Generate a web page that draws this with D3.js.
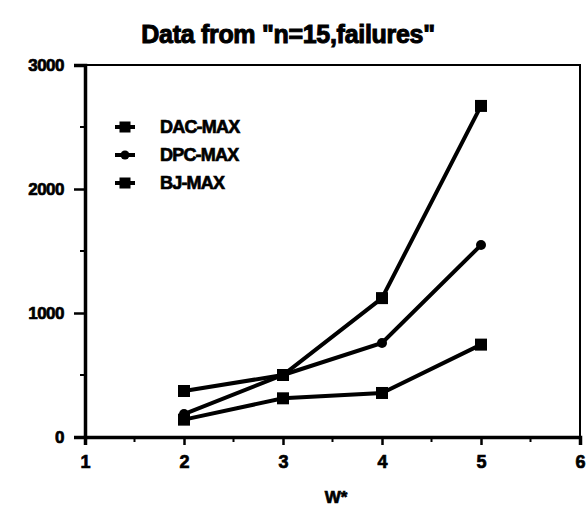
<!DOCTYPE html>
<html>
<head>
<meta charset="utf-8">
<script src="https://cdn.jsdelivr.net/npm/d3@7"></script>
<style>
  body { margin: 0; background: #fff; }
  text { font-family: 'Liberation Sans', Arial, sans-serif; font-weight: bold; fill: #000; stroke: #000; stroke-width: 0.7px; }
</style>
</head>
<body>
<svg width="588" height="514"></svg>
<script>
const xValues = [2, 3, 4, 5];
const seriesNames = ['DAC-MAX', 'DPC-MAX', 'BJ-MAX'];
const dacMax = [371, 500, 1120, 2670];
const dpcMax = [185, 500, 758, 1548];
const bjMax = [140, 312, 355, 745];
const seriesShapes = ['square', 'circle', 'square'];
const xTicks = [1, 2, 3, 4, 5, 6];
const yTicks = [0, 1000, 2000, 3000];

const series = seriesNames.map((name, i) => ({
  name,
  shape: seriesShapes[i],
  values: [dacMax, dpcMax, bjMax][i].map((v, j) => ({ x: xValues[j], y: v })),
}));

const margin = { top: 65, right: 8, bottom: 77, left: 85 };
const width = 588, height = 514;

const xScale = d3.scaleLinear([1, 6], [margin.left, width - margin.right]);
const yScale = d3.scaleLinear([0, 3000], [height - margin.bottom, margin.top]);

const svg = d3.select('svg');

svg.append('text')
  .text('Data from "n=15,failures"')
  .attr('x', 288)
  .attr('y', 43)
  .attr('text-anchor', 'middle')
  .attr('letter-spacing', '-0.3')
  .style('font-size', '25px')
  .style('stroke-width', '1px');

// frame
svg.append('rect')
  .attr('x', xScale(1))
  .attr('y', yScale(3000))
  .attr('width', xScale(6) - xScale(1))
  .attr('height', yScale(0) - yScale(3000))
  .attr('fill', 'none')
  .attr('stroke', 'black')
  .attr('stroke-width', 2);

const xAxis = d3.axisBottom(xScale)
  .tickValues(xTicks)
  .tickFormat(d3.format('d'))
  .tickSize(8)
  .tickPadding(10);

const yAxis = d3.axisLeft(yScale)
  .tickValues(yTicks)
  .tickFormat(d3.format('d'))
  .tickSize(11)
  .tickPadding(10);

const gx = svg.append('g')
  .attr('transform', `translate(0, ${yScale(0)})`)
  .call(xAxis);
gx.select('.domain').attr('stroke-width', 3.5);
gx.selectAll('line').attr('stroke-width', 2.5);
gx.selectAll('text').style('font-size', '18px');

const gy = svg.append('g')
  .attr('transform', `translate(${xScale(1)}, 0)`)
  .call(yAxis);
gy.select('.domain').attr('stroke-width', 3.5);
gy.selectAll('line').attr('stroke-width', 2.5);
gy.selectAll('text').style('font-size', '17px').attr('letter-spacing', '-0.5');

// minor ticks
svg.append('g')
  .selectAll('line')
  .data([1.5, 2.5, 3.5, 4.5, 5.5])
  .join('line')
    .attr('x1', (d) => xScale(d))
    .attr('x2', (d) => xScale(d))
    .attr('y1', yScale(0))
    .attr('y2', yScale(0) + 5)
    .attr('stroke', 'black')
    .attr('stroke-width', 2);

svg.append('g')
  .selectAll('line')
  .data([500, 1500, 2500])
  .join('line')
    .attr('x1', xScale(1) - 5)
    .attr('x2', xScale(1))
    .attr('y1', (d) => yScale(d))
    .attr('y2', (d) => yScale(d))
    .attr('stroke', 'black')
    .attr('stroke-width', 2);

svg.append('text')
  .text('W*')
  .attr('x', 336)
  .attr('y', 503)
  .attr('text-anchor', 'middle')
  .style('font-size', '17px');

const line = d3.line()
  .x((d) => xScale(d.x))
  .y((d) => yScale(d.y));

function drawMarker(sel, shape, size) {
  if (shape === 'square') {
    sel.append('rect')
      .attr('x', -size / 2)
      .attr('y', -size / 2)
      .attr('width', size)
      .attr('height', size)
      .attr('fill', 'black');
  } else {
    sel.append('circle')
      .attr('r', size / 2 - 1)
      .attr('fill', 'black');
  }
}

series.forEach((s) => {
  svg.append('path')
    .datum(s.values)
    .attr('d', line)
    .attr('fill', 'none')
    .attr('stroke', 'black')
    .attr('stroke-width', 4);

  svg.append('g')
    .selectAll('g')
    .data(s.values)
    .join('g')
      .attr('transform', (d) => `translate(${xScale(d.x)}, ${yScale(d.y)})`)
      .each(function () { drawMarker(d3.select(this), s.shape, 12); });
});

// legend
const legend = svg.append('g')
  .selectAll('g')
  .data(series)
  .join('g')
    .attr('transform', (d, i) => `translate(125, ${127 + i * 28})`);

legend.append('line')
  .attr('x1', -10)
  .attr('x2', 10)
  .attr('stroke', 'black')
  .attr('stroke-width', 4);

legend.each(function (d) { drawMarker(d3.select(this), d.shape, 11); });

legend.append('text')
  .text((d) => d.name)
  .attr('x', 35)
  .attr('dy', '0.36em')
  .attr('letter-spacing', '-0.8')
  .style('font-size', '18px');
</script>
</body>
</html>
